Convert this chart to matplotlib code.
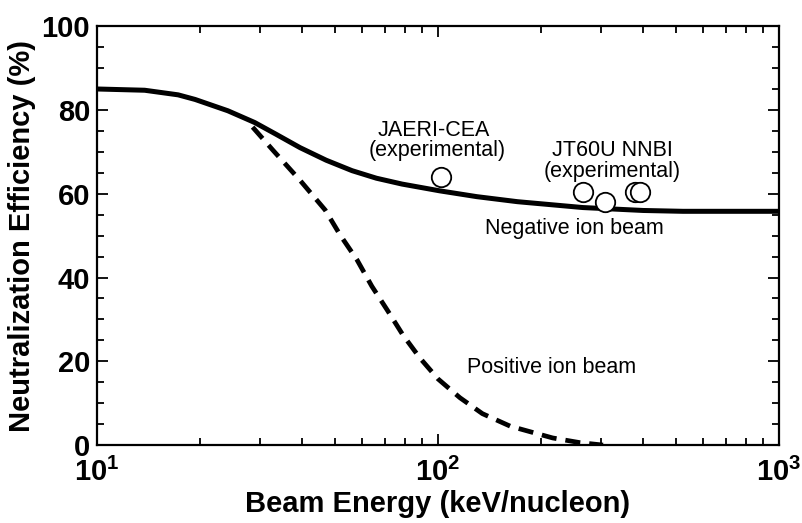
import numpy as np
import matplotlib
matplotlib.use('Agg')
import matplotlib.pyplot as plt
from matplotlib.ticker import FixedLocator, LogLocator, NullFormatter, MultipleLocator

plt.rcParams['font.family'] = ['Liberation Sans', 'DejaVu Sans']
plt.rcParams['mathtext.fontset'] = 'custom'
plt.rcParams['mathtext.rm'] = 'Liberation Sans'
plt.rcParams['mathtext.bf'] = 'Liberation Sans:bold'

# Negative ion beam (solid curve)
neg_energy = [10, 13.8, 17.3, 19.4, 24.2, 29.0, 33.5, 39.4, 47.0, 56.0, 66.0, 78.5,
              101, 130, 171, 266, 400, 523, 1000]
neg_eff = [85.0, 84.7, 83.6, 82.5, 79.8, 77.0, 74.2, 71.0, 68.0, 65.5, 63.7, 62.3,
           60.7, 59.3, 58.1, 56.7, 56.0, 55.8, 55.8]

# Positive ion beam (dashed curve)
pos_energy = [28.6, 32.8, 39.4, 46.7, 51.7, 57.9, 64.0, 71.3, 78.9, 88.5, 100, 116,
              135, 163, 217, 260, 305]
pos_eff = [75.9, 70.4, 63.2, 56.1, 50.1, 44.2, 37.9, 32.0, 26.3, 20.8, 15.8, 11.3,
           7.5, 4.5, 1.7, 0.6, 0.0]

# Experimental points
jaeri_energy = [102]
jaeri_eff = [64.0]
jt60_energy = [266, 309, 378, 391]
jt60_eff = [60.4, 58.0, 60.4, 60.4]

tick_vals = [10, 100, 1000]
tick_labels = [r'$\mathbf{10^{1}}$', r'$\mathbf{10^{2}}$', r'$\mathbf{10^{3}}$']

fig = plt.figure(figsize=(8.03, 5.23), dpi=100)
ax = fig.add_axes([0.1208, 0.149, 0.8492, 0.801])

ax.plot(neg_energy, neg_eff, color='black', lw=3.6, solid_capstyle='butt', zorder=3)
ax.plot(pos_energy, pos_eff, color='black', lw=3.4, linestyle=(0, (3.2, 1.9)),
        dash_capstyle='butt', zorder=3)
ax.plot(jaeri_energy, jaeri_eff, 'o', ms=14, mfc='white', mec='black', mew=1.3, zorder=4)
ax.plot(jt60_energy, jt60_eff, 'o', ms=14, mfc='white', mec='black', mew=1.3, zorder=4)

ax.text(97.2, 75.2, 'JAERI-CEA', ha='center', va='center', fontsize=15.5)
ax.text(99.6, 70.3, '(experimental)', ha='center', va='center', fontsize=15.5)
ax.text(325, 70.2, 'JT60U NNBI', ha='center', va='center', fontsize=15.5)
ax.text(325, 65.2, '(experimental)', ha='center', va='center', fontsize=15.5)
ax.text(251, 51.6, 'Negative ion beam', ha='center', va='center', fontsize=15.5)
ax.text(216, 18.5, 'Positive ion beam', ha='center', va='center', fontsize=15.5)

ax.set_xscale('log')
ax.set_xlim(10, 1000)
ax.set_ylim(0, 100)

ax.xaxis.set_major_locator(FixedLocator(tick_vals))
ax.set_xticklabels(tick_labels)
ax.xaxis.set_minor_locator(LogLocator(base=10, subs=np.arange(2, 10)))
ax.xaxis.set_minor_formatter(NullFormatter())
ax.yaxis.set_major_locator(MultipleLocator(20))
ax.yaxis.set_minor_locator(MultipleLocator(5))

ax.tick_params(which='both', direction='in', top=True, right=True, width=1.3)
ax.tick_params(which='major', length=8, labelsize=21)
ax.tick_params(axis='x', which='major', pad=9)
ax.tick_params(axis='y', which='major', pad=5)
ax.tick_params(which='minor', length=5)
for lab in ax.get_xticklabels() + ax.get_yticklabels():
    lab.set_fontweight('bold')
for sp in ax.spines.values():
    sp.set_linewidth(1.6)

ax.set_xlabel('Beam Energy (keV/nucleon)', fontsize=21, fontweight='bold', labelpad=2)
ax.set_ylabel('Neutralization Efficiency (%)', fontsize=21, fontweight='bold', labelpad=4)

plt.savefig('out.png', dpi=100)
